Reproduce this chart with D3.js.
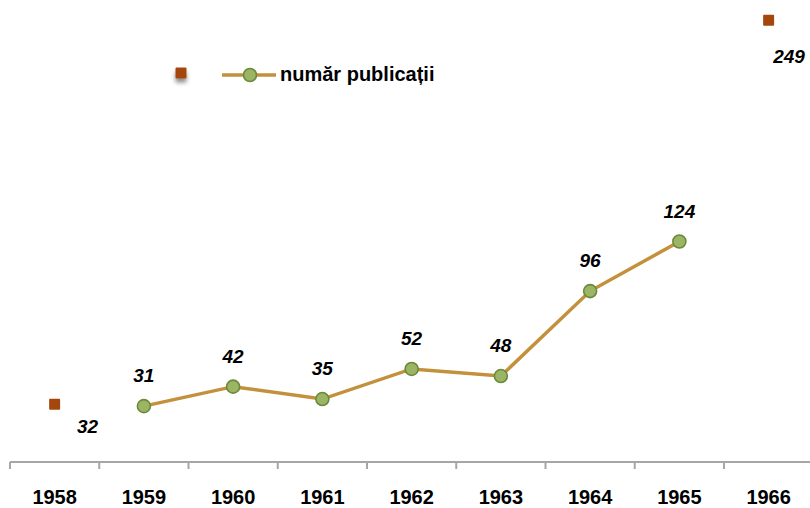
<!doctype html>
<html lang="ro">
<head>
<meta charset="utf-8">
<title>Număr publicații</title>
<script src="https://d3js.org/d3.v7.min.js"></script>
<style>
  body { margin: 0; background: #fff; }
  text { font-family: "Liberation Sans", Arial, sans-serif; fill: #000; }
  .tick-label { font-size: 20px; font-weight: bold; }
  .val { font-size: 19px; font-weight: bold; font-style: italic; }
  .legend-text { font-size: 20px; font-weight: bold; }
</style>
</head>
<body>
<svg id="chart" width="810" height="508"></svg>
<script>
// categories on the x axis
const years = ["1958", "1959", "1960", "1961", "1962", "1963", "1964", "1965", "1966"];
// main series (line)
const pubYears = ["1959", "1960", "1961", "1962", "1963", "1964", "1965"];
const pubValues = [31, 42, 35, 52, 48, 96, 124];
// separate points (squares)
const extraYears = ["1958", "1966"];
const extraValues = [32, 249];
const seriesName = "număr publicații";

const W = 810, H = 508;
const svg = d3.select("#chart");

const defs = svg.append("defs");
const shadow = defs.append("filter").attr("id", "shadow")
  .attr("x", "-50%").attr("y", "-50%").attr("width", "200%").attr("height", "250%");
shadow.append("feDropShadow")
  .attr("dx", 0).attr("dy", 4).attr("stdDeviation", 2)
  .attr("flood-color", "#000").attr("flood-opacity", 0.45);

const x = d3.scaleBand().domain(years).range([10, 813.25]).padding(0);
const cx = d => x(d) + x.bandwidth() / 2;
const y = d3.scaleLinear().domain([0, 250]).range([461, 18.5]);

const axisY = 462;

// axis line and ticks between categories
svg.append("line")
  .attr("x1", 10).attr("x2", W)
  .attr("y1", axisY).attr("y2", axisY)
  .attr("stroke", "#a6a6a6").attr("stroke-width", 2);

svg.selectAll(".tk")
  .data(years)
  .enter().append("line")
  .attr("class", "tk")
  .attr("x1", d => x(d)).attr("x2", d => x(d))
  .attr("y1", axisY).attr("y2", axisY + 7)
  .attr("stroke", "#a6a6a6").attr("stroke-width", 2);

svg.selectAll(".tick-label")
  .data(years)
  .enter().append("text")
  .attr("class", "tick-label")
  .attr("x", d => cx(d))
  .attr("y", 504)
  .attr("text-anchor", "middle")
  .text(d => d);

// line series
const lineColor = "#c3913b";
const line = d3.line()
  .x((d, i) => cx(pubYears[i]))
  .y(d => y(d));

svg.append("path")
  .datum(pubValues)
  .attr("d", line)
  .attr("fill", "none")
  .attr("stroke", lineColor)
  .attr("stroke-width", 3.5);

svg.selectAll(".pt")
  .data(pubValues)
  .enter().append("circle")
  .attr("class", "pt")
  .attr("cx", (d, i) => cx(pubYears[i]))
  .attr("cy", d => y(d))
  .attr("r", 6.5)
  .attr("fill", "#9bb565")
  .attr("stroke", "#6a8a3a")
  .attr("stroke-width", 1.6);

svg.selectAll(".pv")
  .data(pubValues)
  .enter().append("text")
  .attr("class", "val")
  .attr("x", (d, i) => cx(pubYears[i]))
  .attr("y", d => y(d) - 24)
  .attr("text-anchor", "middle")
  .text(d => d);

// square points
const sqColor = "#a4470e";
svg.selectAll(".sq")
  .data(extraValues)
  .enter().append("rect")
  .attr("class", "sq")
  .attr("x", (d, i) => cx(extraYears[i]) - 5.5)
  .attr("y", d => y(d) - 5.5)
  .attr("width", 11).attr("height", 11)
  .attr("rx", 1)
  .attr("fill", sqColor);

// labels below-right, kept inside the right edge
const sqLabelDy = [29, 43];
svg.selectAll(".sv")
  .data(extraValues)
  .enter().append("text")
  .attr("class", "val")
  .attr("x", (d, i) => Math.min(cx(extraYears[i]) + 33, W - 21))
  .attr("y", (d, i) => y(d) + sqLabelDy[i])
  .attr("text-anchor", "middle")
  .text(d => d);

// legend
const legend = svg.append("g").attr("class", "legend");
legend.append("rect")
  .attr("x", 175.5).attr("y", 67.5)
  .attr("width", 11).attr("height", 11)
  .attr("rx", 1)
  .attr("fill", sqColor)
  .attr("filter", "url(#shadow)");
legend.append("line")
  .attr("x1", 222).attr("x2", 276)
  .attr("y1", 75).attr("y2", 75)
  .attr("stroke", lineColor).attr("stroke-width", 3.5);
legend.append("circle")
  .attr("cx", 250).attr("cy", 75).attr("r", 6.5)
  .attr("fill", "#9bb565").attr("stroke", "#6a8a3a").attr("stroke-width", 1.6);
legend.append("text")
  .attr("class", "legend-text")
  .attr("x", 280).attr("y", 81)
  .text(seriesName);
</script>
</body>
</html>
